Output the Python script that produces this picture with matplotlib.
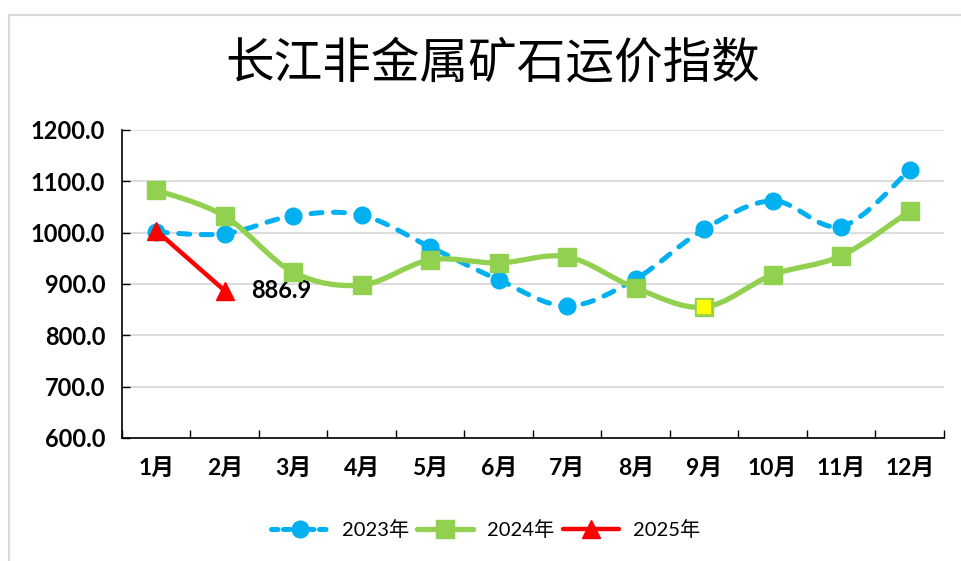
import numpy as np
import matplotlib.pyplot as plt
from matplotlib.path import Path
from matplotlib.patches import PathPatch, Rectangle
from matplotlib.lines import Line2D

plt.rcParams['font.family'] = ['Lato', 'Noto Sans CJK SC']

months = ['1月', '2月', '3月', '4月', '5月', '6月', '7月', '8月', '9月', '10月', '11月', '12月']
y2023 = [1001, 998, 1033, 1034, 972, 908, 857, 910, 1007, 1062, 1012, 1122]
y2024 = [1083, 1032, 923, 898, 947, 941, 953, 892, 855, 918, 955, 1042]
y2025 = [1004, 886.9]
yticks = [600, 700, 800, 900, 1000, 1100, 1200]

BLUE = '#00B0F0'
GREEN = '#92D050'
RED = '#FF0000'


def smooth_path(xs, ys):
    # excel-like smoothed line: cubic bezier through every point
    pts = np.column_stack([xs, ys]).astype(float)
    n = len(pts)
    verts = [pts[0]]
    codes = [Path.MOVETO]
    for i in range(n - 1):
        p0 = pts[i - 1] if i > 0 else pts[i]
        p1 = pts[i]
        p2 = pts[i + 1]
        p3 = pts[i + 2] if i + 2 < n else pts[i + 1]
        c1 = p1 + (p2 - p0) / 6.0
        c2 = p2 - (p3 - p1) / 6.0
        verts += [c1, c2, p2]
        codes += [Path.CURVE4] * 3
    return Path(verts, codes)


fig = plt.figure(figsize=(9.62, 5.61), dpi=100)
fig.patches.append(Rectangle((9 / 962, -0.1), 1.2, 1 - 15 / 561 + 0.1, transform=fig.transFigure,
                             fill=False, edgecolor='#D9D9D9', linewidth=1.5))
ax = fig.add_axes([122 / 962, 1 - 438 / 561, (944 - 122) / 962, (438 - 130) / 561])

x = np.arange(len(months))

# 2023
ax.add_patch(PathPatch(smooth_path(x, y2023), fill=False, edgecolor=BLUE, linewidth=3.6,
                       linestyle=(0, (2.2, 2.3)), capstyle='round', zorder=3))
ax.plot(x, y2023, linestyle='none', marker='o', markersize=12, color=BLUE, zorder=3)

# 2024
ax.add_patch(PathPatch(smooth_path(x, y2024), fill=False, edgecolor=GREEN, linewidth=3.8,
                       capstyle='round', zorder=4))
ax.plot(x, y2024, linestyle='none', marker='s', markersize=12.5, color=GREEN, zorder=4)
ax.plot(x[8], y2024[8], linestyle='none', marker='s', markersize=11, markerfacecolor='#FFFF00',
        markeredgecolor=GREEN, markeredgewidth=1.2, zorder=5)

# 2025
ax.plot(x[:len(y2025)], y2025, color=RED, linewidth=3.2, marker='^', markersize=12.5,
        solid_capstyle='round', zorder=6)
ax.annotate('%.1f' % y2025[-1], (x[len(y2025) - 1], y2025[-1]), xytext=(19, 0),
            textcoords='offset points', va='center', ha='left', fontsize=17, fontweight='bold')

ax.set_xlim(-0.5, len(months) - 0.5)
ax.set_ylim(600, 1200)
ax.set_yticks(yticks)
ax.set_yticklabels(['%.1f' % v for v in yticks])
ax.set_xticks(x)
ax.set_xticklabels(months)
ax.set_xticks(np.arange(-0.5, len(months)), minor=True)
ax.grid(axis='y', color='#D9D9D9', linewidth=1.3, zorder=0)
ax.set_axisbelow(True)
for s in ('top', 'right'):
    ax.spines[s].set_visible(False)
for s in ('left', 'bottom'):
    ax.spines[s].set_color('black')
    ax.spines[s].set_linewidth(1.2)
ax.tick_params(axis='y', direction='in', length=6, width=1, labelsize=17, pad=12)
ax.tick_params(axis='x', which='major', length=0, labelsize=16.5, pad=14)
ax.tick_params(axis='x', which='minor', direction='in', length=6, width=1)
for lab in ax.get_xticklabels() + ax.get_yticklabels():
    lab.set_fontweight('bold')

fig.text(0.512, 1 - 64 / 561, '长江非金属矿石运价指数', ha='center', va='center', fontsize=35,
         family=['Noto Sans CJK SC'])

handles = [
    Line2D([], [], color=BLUE, linewidth=3.6, linestyle=(0, (1.3, 1.1)), marker='o', markersize=12,
           dash_capstyle='round'),
    Line2D([], [], color=GREEN, linewidth=3.8, marker='s', markersize=12.5, solid_capstyle='round'),
    Line2D([], [], color=RED, linewidth=3.2, marker='^', markersize=12.5, solid_capstyle='round'),
]
fig.legend(handles, ['2023年', '2024年', '2025年'], loc='center', bbox_to_anchor=(0.505, 1 - 530 / 561),
           ncol=3, frameon=False, fontsize=14.5, handlelength=2.8, columnspacing=0.4, handletextpad=0.7)

fig.savefig('out.png', dpi=100)
